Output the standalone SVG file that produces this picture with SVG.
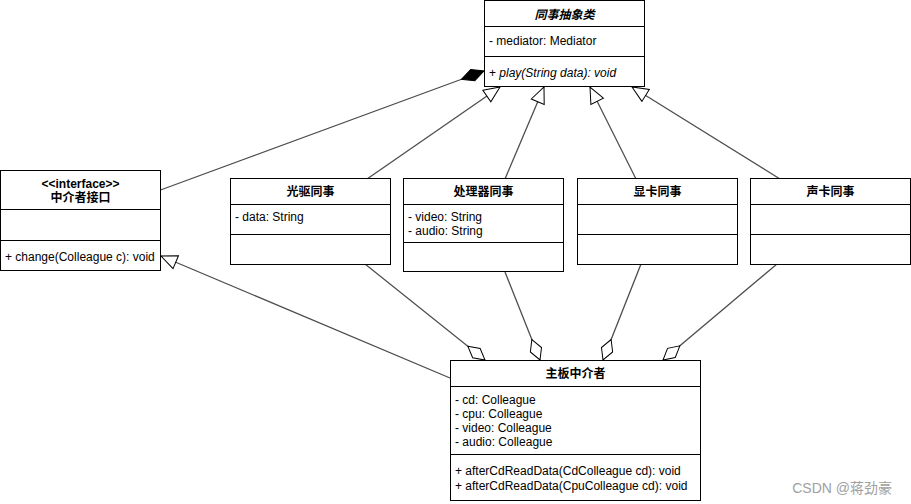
<svg xmlns="http://www.w3.org/2000/svg" width="911" height="504" viewBox="0 0 911 504">
<style>
.box{fill:#fff;stroke:#000;stroke-width:1}
.sep{stroke:#000;stroke-width:1}
text{font-family:"Liberation Sans","Noto Sans CJK SC",Arial,sans-serif;font-size:12px;fill:#000}
.t{font-weight:bold;text-anchor:middle}
.c{stroke:#4d4d4d;stroke-width:1.3;fill:none}
.wm{font-size:14px;fill:#a0a0a0;text-anchor:end}
</style>
<defs>
<marker id="tri" viewBox="-1 -8 18 16" refX="16" refY="0" markerWidth="18" markerHeight="16" orient="auto" markerUnits="userSpaceOnUse"><path d="M0,-7 L16,0 L0,7 Z" fill="#fff" stroke="#000"/></marker>
<marker id="odia" viewBox="-1 -7 24 14" refX="22" refY="0" markerWidth="24" markerHeight="14" orient="auto" markerUnits="userSpaceOnUse"><path d="M0,0 L11,-6 L22,0 L11,6 Z" fill="#fff" stroke="#000"/></marker>
<marker id="fdia" viewBox="-1 -7 26 14" refX="24" refY="0" markerWidth="26" markerHeight="14" orient="auto" markerUnits="userSpaceOnUse"><path d="M0,0 L12,-6 L24,0 L12,6 Z" fill="#000" stroke="#000"/></marker>
</defs>
<g id="connectors">
<line class="c" x1="160.5" y1="190" x2="484" y2="71" marker-end="url(#fdia)"/>
<line class="c" x1="367" y1="179" x2="500" y2="87" marker-end="url(#tri)"/>
<line class="c" x1="505" y1="179" x2="544" y2="87" marker-end="url(#tri)"/>
<line class="c" x1="636" y1="179" x2="590" y2="87" marker-end="url(#tri)"/>
<line class="c" x1="780" y1="179" x2="632" y2="87" marker-end="url(#tri)"/>
<line class="c" x1="450" y1="378" x2="161" y2="256" marker-end="url(#tri)"/>
<line class="c" x1="365" y1="264" x2="485" y2="360" marker-end="url(#odia)"/>
<line class="c" x1="505" y1="272" x2="540" y2="360" marker-end="url(#odia)"/>
<line class="c" x1="641" y1="264" x2="603" y2="360" marker-end="url(#odia)"/>
<line class="c" x1="777" y1="264" x2="663" y2="360" marker-end="url(#odia)"/>
</g>
<g id="colleague">
<rect class="box" x="484.5" y="0.5" width="160" height="86"/>
<line class="sep" x1="484.5" y1="26.5" x2="644.5" y2="26.5"/>
<line class="sep" x1="484.5" y1="56.5" x2="644.5" y2="56.5"/>
<text class="t" x="564.5" y="19" font-style="italic">同事抽象类</text>
<text x="489" y="45">- mediator: Mediator</text>
<text x="489" y="77">+ <tspan font-style="italic">play(String data): void</tspan></text>
</g>
<g id="mediator-interface">
<rect class="box" x="0.5" y="170.5" width="160" height="100"/>
<line class="sep" x1="0.5" y1="209.5" x2="160.5" y2="209.5"/>
<line class="sep" x1="0.5" y1="240.5" x2="160.5" y2="240.5"/>
<text class="t" x="80.5" y="188">&lt;&lt;interface&gt;&gt;</text>
<text class="t" x="80.5" y="202">中介者接口</text>
<text x="5" y="261">+ change(Colleague c): void</text>
</g>
<g id="cd">
<rect class="box" x="230.5" y="178.5" width="160" height="86"/>
<line class="sep" x1="230.5" y1="204.5" x2="390.5" y2="204.5"/>
<line class="sep" x1="230.5" y1="234.5" x2="390.5" y2="234.5"/>
<text class="t" x="310.5" y="196">光驱同事</text>
<text x="235" y="221">- data: String</text>
</g>
<g id="cpu">
<rect class="box" x="403.5" y="178.5" width="160" height="93"/>
<line class="sep" x1="403.5" y1="204.5" x2="563.5" y2="204.5"/>
<line class="sep" x1="403.5" y1="242.5" x2="563.5" y2="242.5"/>
<text class="t" x="483.5" y="196">处理器同事</text>
<text x="408" y="221">- video: String</text>
<text x="408" y="235">- audio: String</text>
</g>
<g id="video">
<rect class="box" x="577.5" y="178.5" width="160" height="86"/>
<line class="sep" x1="577.5" y1="204.5" x2="737.5" y2="204.5"/>
<line class="sep" x1="577.5" y1="234.5" x2="737.5" y2="234.5"/>
<text class="t" x="657.5" y="196">显卡同事</text>
</g>
<g id="audio">
<rect class="box" x="750.5" y="178.5" width="160" height="86"/>
<line class="sep" x1="750.5" y1="204.5" x2="910.5" y2="204.5"/>
<line class="sep" x1="750.5" y1="234.5" x2="910.5" y2="234.5"/>
<text class="t" x="830.5" y="196">声卡同事</text>
</g>
<g id="mainboard">
<rect class="box" x="450.5" y="360.5" width="250" height="140"/>
<line class="sep" x1="450.5" y1="386.5" x2="700.5" y2="386.5"/>
<line class="sep" x1="450.5" y1="454.5" x2="700.5" y2="454.5"/>
<text class="t" x="575.5" y="378">主板中介者</text>
<text x="455" y="404">- cd: Colleague</text>
<text x="455" y="418">- cpu: Colleague</text>
<text x="455" y="432">- video: Colleague</text>
<text x="455" y="446">- audio: Colleague</text>
<text x="455" y="475">+ afterCdReadData(CdColleague cd): void</text>
<text x="455" y="490">+ afterCdReadData(CpuColleague cd): void</text>
</g>
<text class="wm" x="892" y="493">CSDN @蒋劲豪</text>
</svg>
